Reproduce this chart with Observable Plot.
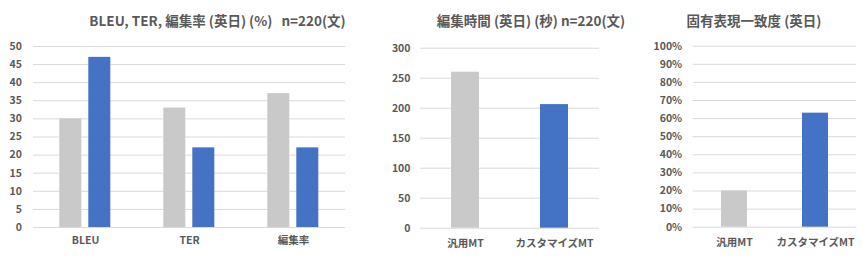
<!DOCTYPE html>
<html><head><meta charset="utf-8">
<script src="https://cdn.jsdelivr.net/npm/d3@7"></script>
<script src="https://cdn.jsdelivr.net/npm/@observablehq/plot@0.6"></script>
<style>
body{margin:0;background:#fff;}
#wrap{position:relative;width:867px;height:261px;overflow:hidden;font-family:"Noto Sans CJK JP",sans-serif;}
.panel{position:absolute;top:0;}
.title{position:absolute;top:10px;transform:translateX(-50%);white-space:nowrap;font-family:"Noto Sans CJK JP",sans-serif;font-size:13.5px;font-weight:bold;color:#595959;line-height:20px;}
</style></head>
<body><div id="wrap"></div>
<script>
const metrics = ["BLEU", "TER", "編集率"];
const systems = ["汎用MT", "カスタマイズMT"];
const genericScores = [30, 33, 37];
const customScores = [47, 22, 22];
const editTime = [260, 206];
const neMatch = [0.20, 0.63];
const seriesColors = ["#C9C9C9", "#4472C4"];
const titles = ["BLEU, TER, 編集率 (英日) (%)\u00a0\u00a0 n=220(文)", "編集時間 (英日) (秒)\u00a0n=220(文)", "固有表現一致度 (英日)"];

const wrap = document.getElementById("wrap");
const font = {fontFamily: '"Noto Sans CJK JP", sans-serif', fontSize: "10.5px", fontWeight: "bold", color: "#595959", background: "transparent", overflow: "visible"};
const gridColor = "#D9D9D9";

const scoreRows = [];
metrics.forEach((m, i) => {
  scoreRows.push({metric: m, system: systems[0], value: genericScores[i]});
  scoreRows.push({metric: m, system: systems[1], value: customScores[i]});
});

function place(svg, left) {
  const d = document.createElement("div");
  d.className = "panel";
  d.style.left = left + "px";
  d.appendChild(svg);
  wrap.appendChild(d);
}
function addTitle(text, center) {
  const t = document.createElement("div");
  t.className = "title";
  t.style.left = center + "px";
  t.textContent = text;
  wrap.appendChild(t);
}

const p1 = Plot.plot({
  width: 360, height: 261,
  marginLeft: 32.7, marginRight: 14, marginTop: 46, marginBottom: 34,
  style: font,
  fx: {domain: metrics, padding: 0, label: null, axis: "bottom", tickSize: 0, tickPadding: 9},
  x: {domain: systems, paddingInner: 0.2333, paddingOuter: 0.857, axis: null},
  y: {domain: [0, 50], ticks: d3.range(0, 51, 5), label: null, tickSize: 0, tickPadding: 11.5},
  color: {domain: systems, range: seriesColors},
  marks: [
    Plot.gridY(d3.range(0, 51, 5), {stroke: gridColor, strokeOpacity: 1, strokeWidth: 1}),
    Plot.barY(scoreRows, {fx: "metric", x: "system", y: "value", fill: "system"})
  ]
});
place(p1, 0);

const p2 = Plot.plot({
  width: 260, height: 261,
  marginLeft: 60, marginRight: 21, marginTop: 47.7, marginBottom: 33.3,
  style: font,
  x: {domain: systems, paddingInner: 0.687, paddingOuter: 0.3435, label: null, tickSize: 0, tickPadding: 11},
  y: {domain: [0, 300], ticks: d3.range(0, 301, 50), label: null, tickSize: 0, tickPadding: 10},
  color: {domain: systems, range: seriesColors},
  marks: [
    Plot.gridY(d3.range(0, 301, 50), {stroke: gridColor, strokeOpacity: 1}),
    Plot.barY(systems.map((s, i) => ({system: s, value: editTime[i]})), {x: "system", y: "value", fill: "system"})
  ]
});
place(p2, 360);

const p3 = Plot.plot({
  width: 247, height: 261,
  marginLeft: 72.7, marginRight: 11, marginTop: 45.7, marginBottom: 34.3,
  style: font,
  x: {domain: systems, paddingInner: 0.682, paddingOuter: 0.341, label: null, tickSize: 0, tickPadding: 11},
  y: {domain: [0, 1], ticks: d3.range(0, 11).map(d => d / 10), tickFormat: d3.format(".0%"), label: null, tickSize: 0, tickPadding: 11},
  color: {domain: systems, range: seriesColors},
  marks: [
    Plot.gridY(d3.range(0, 11).map(d => d / 10), {stroke: gridColor, strokeOpacity: 1}),
    Plot.barY(systems.map((s, i) => ({system: s, value: neMatch[i]})), {x: "system", y: "value", fill: "system"})
  ]
});
place(p3, 620);

addTitle(titles[0], 217.5);
addTitle(titles[1], 531);
addTitle(titles[2], 754);
</script></body></html>
